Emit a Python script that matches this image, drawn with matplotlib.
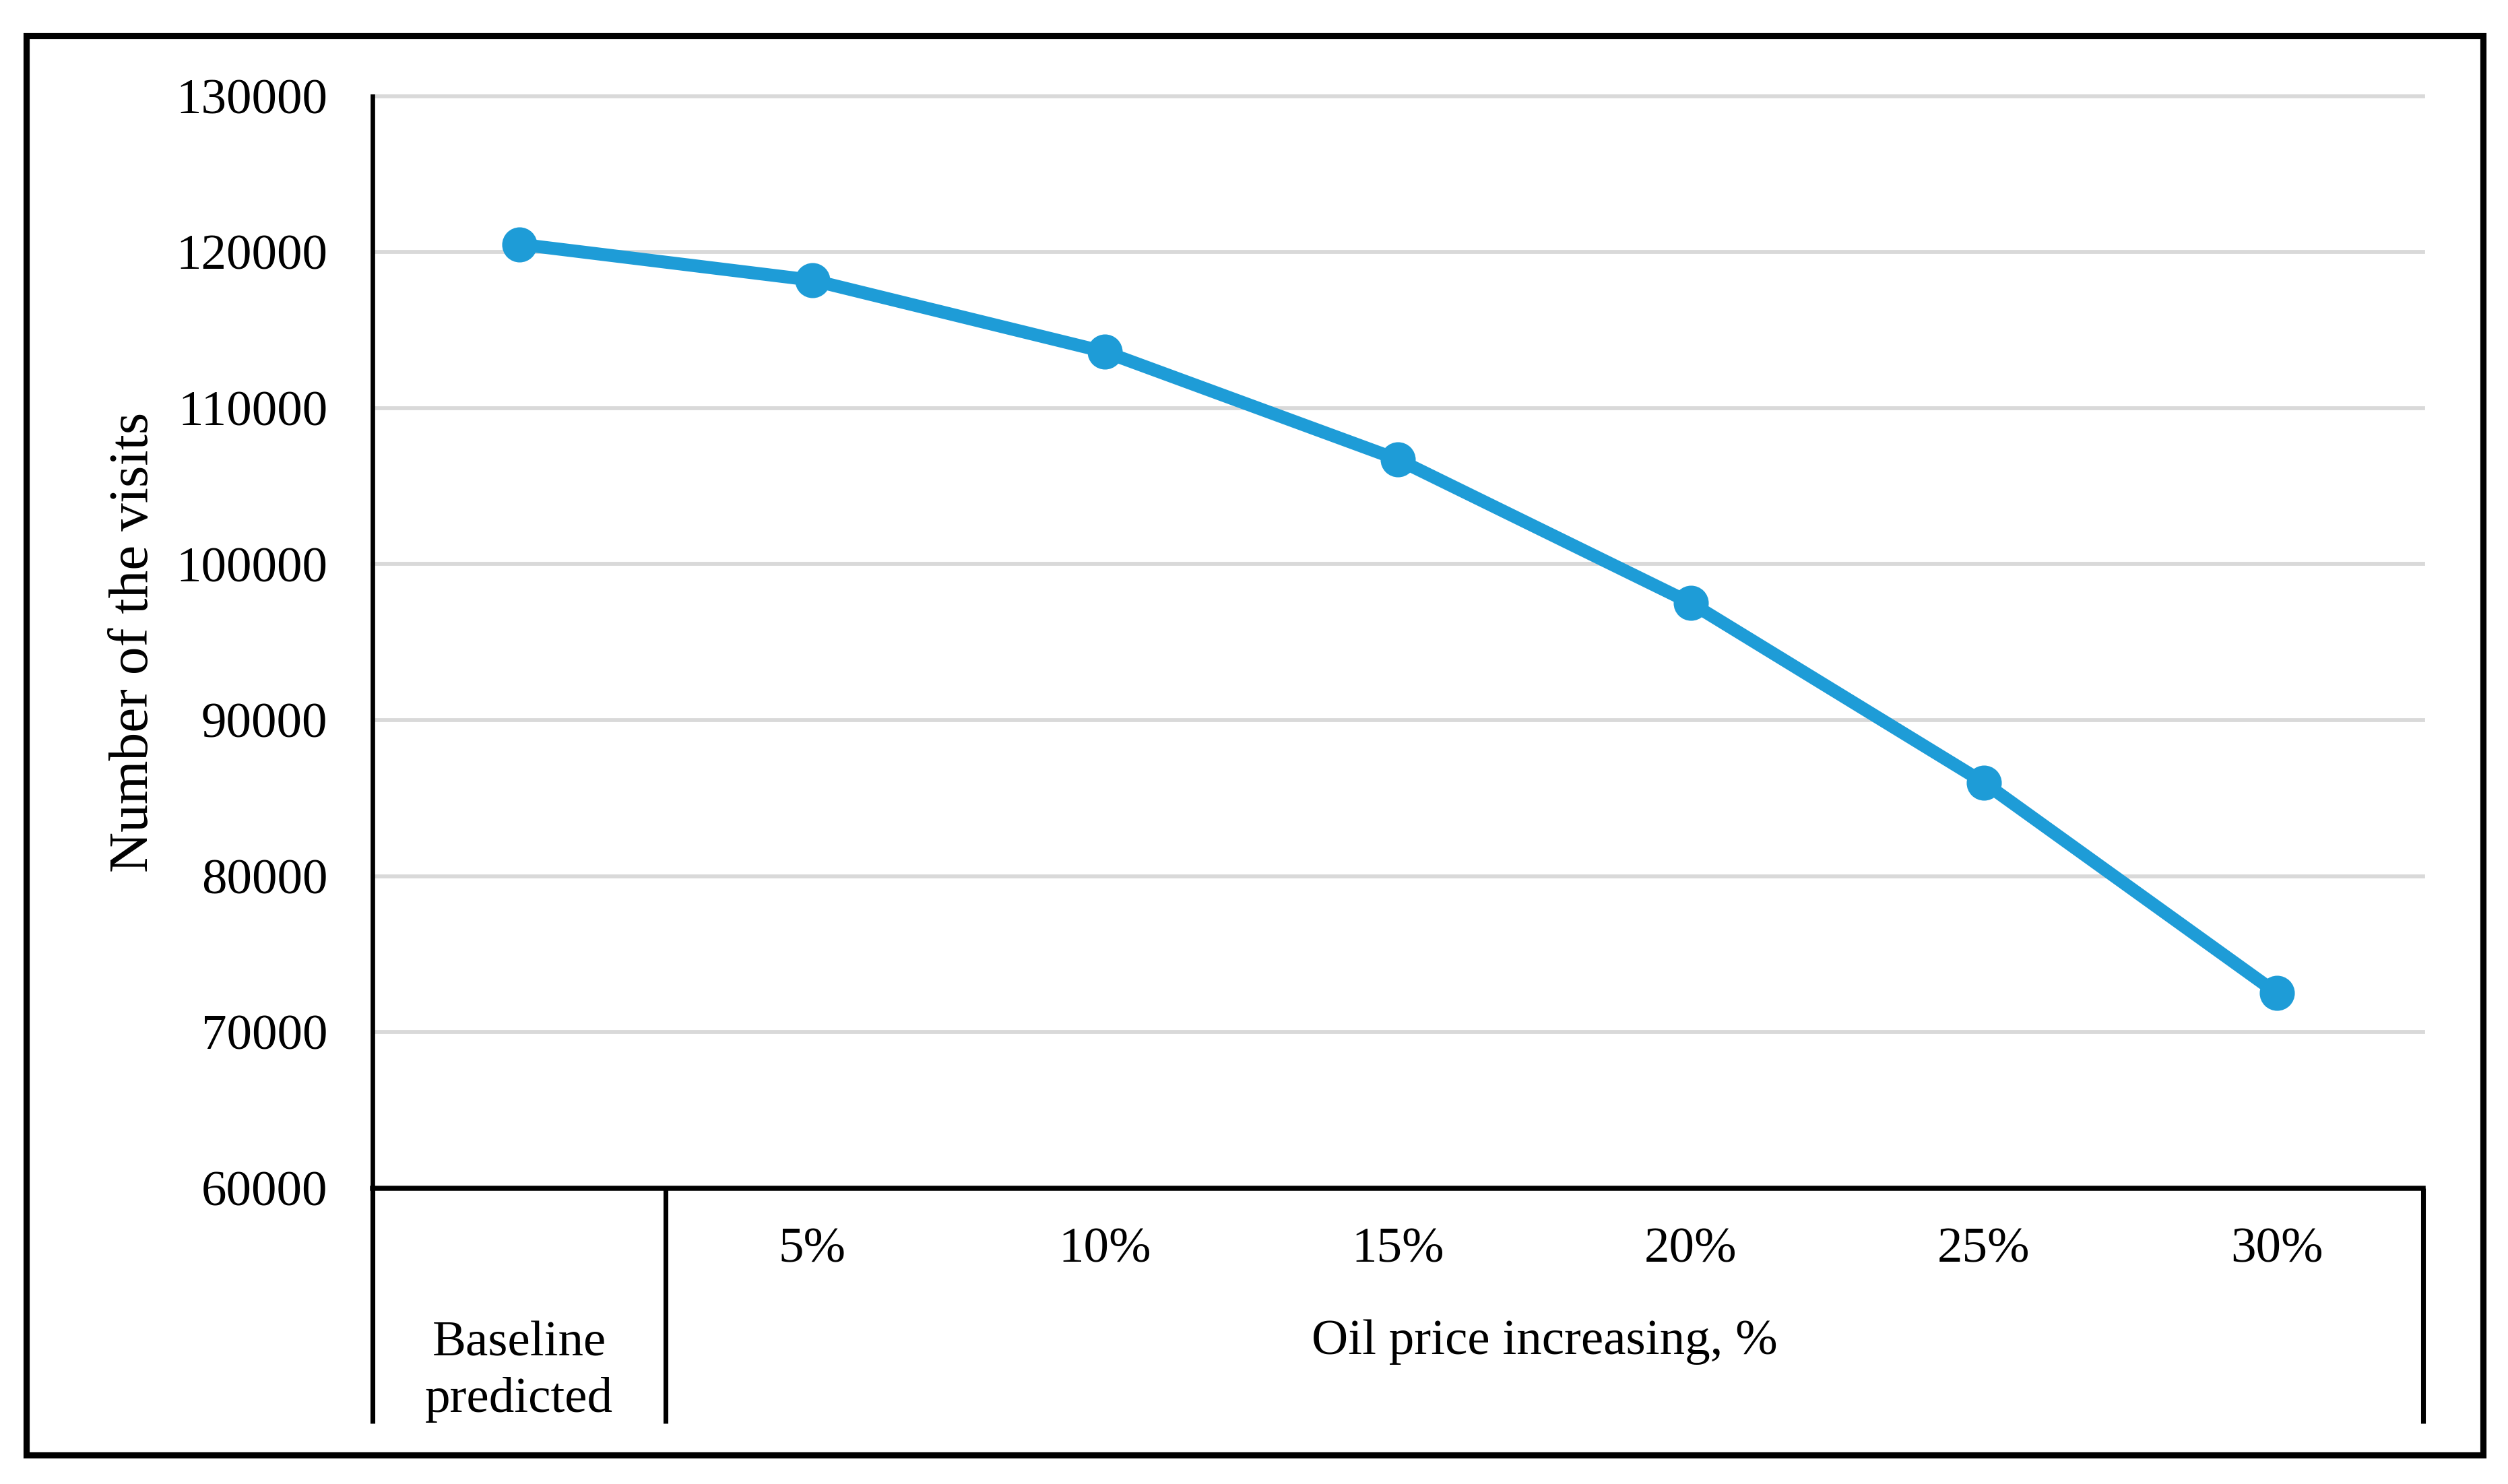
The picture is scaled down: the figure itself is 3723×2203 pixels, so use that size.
import matplotlib.pyplot as plt
from matplotlib.patches import Rectangle
import matplotlib.transforms as mtransforms

plt.rcParams['font.family'] = ['Liberation Serif', 'DejaVu Serif']

# Dados
categorias = ["Baseline\npredicted", "5%", "10%", "15%", "20%", "25%", "30%"]
visitas = [120500, 118200, 113600, 106700, 97500, 86000, 72500]
y_ticks = [60000, 70000, 80000, 90000, 100000, 110000, 120000, 130000]
titulo_grupo = "Oil price increasing, %"
titulo_y = "Number of the visits"

cor_linha = '#1E9CD7'
cor_grade = '#D9D9D9'

fig = plt.figure(figsize=(3723 / 300, 2203 / 300), dpi=300)
ax = fig.add_axes([0.1486, 0.1994, 0.8176, 0.7359])

x = list(range(len(categorias)))

# Linhas de grade
for v in y_ticks[1:]:
    ax.axhline(v, color=cor_grade, lw=1.4, zorder=1, clip_on=False)

ax.plot(x, visitas, color=cor_linha, lw=4.6, marker='o', ms=11.5,
        solid_capstyle='round', zorder=3, clip_on=False)

ax.set_xlim(-0.5, len(categorias) - 0.5)
ax.set_ylim(y_ticks[0], y_ticks[-1])
ax.set_yticks(y_ticks)
ax.set_yticklabels([str(v) for v in y_ticks])
ax.tick_params(axis='y', length=0, pad=16, labelsize=18)
ax.set_xticks([])

for s in ['top', 'right']:
    ax.spines[s].set_visible(False)
ax.spines['left'].set_linewidth(1.6)
ax.spines['bottom'].set_linewidth(1.8)

ax.set_ylabel(titulo_y, fontsize=20)
ax.yaxis.set_label_coords(-0.104, 0.5)

# Rótulos das categorias e separadores abaixo do eixo
trans = mtransforms.blended_transform_factory(ax.transData, ax.transAxes)
for i, c in enumerate(categorias):
    if i == 0:
        ax.text(i, -0.168, c, transform=trans, ha='center', va='center',
                fontsize=18, linespacing=1.3)
    else:
        ax.text(i, -0.057, c, transform=trans, ha='center', va='center',
                fontsize=18)

ax.text((1 + len(categorias) - 1) / 2, -0.141, titulo_grupo, transform=trans,
        ha='center', va='center', fontsize=18)

for xs in [-0.5, 0.5, len(categorias) - 0.5]:
    ax.plot([xs, xs], [0, -0.2152], transform=trans, color='black', lw=1.7,
            clip_on=False, solid_capstyle='butt')

# Moldura externa
fig.patches.append(Rectangle((0.0105, 0.0195), 0.9795, 0.9565,
                             transform=fig.transFigure, fill=False,
                             edgecolor='black', lw=2.2))

fig.savefig('out.png', dpi=300)
